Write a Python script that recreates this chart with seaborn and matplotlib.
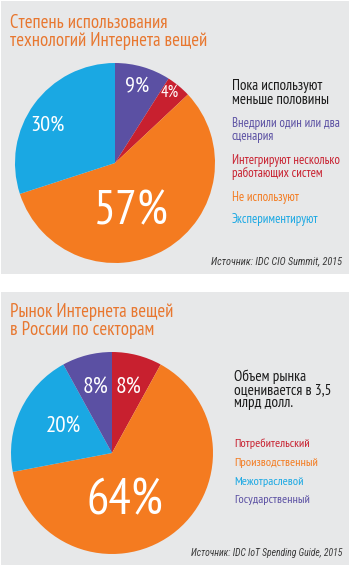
import numpy as np
import matplotlib
matplotlib.use("Agg")
import matplotlib.pyplot as plt
from matplotlib.patches import Rectangle
import seaborn as sns

# ---------------- data ----------------
title1 = "Степень использования\nтехнологий Интернета вещей"
cats1 = ["Внедрили один или два\nсценария", "Интегрируют несколько\nработающих систем",
         "Не используют", "Экспериментируют"]
vals1 = [9, 4, 57, 30]
note1 = "Пока используют\nменьше половины"
source1 = "Источник: IDC CIO Summit, 2015"

title2 = "Рынок Интернета вещей\nв России по секторам"
cats2 = ["Потребительский", "Производственный", "Межотраслевой", "Государственный"]
vals2 = [8, 64, 20, 8]
note2 = "Объем рынка\nоценивается в 3,5\nмлрд долл."
source2 = "Источник: IDC IoT Spending Guide, 2015"

PURPLE, RED, ORANGE, CYAN = "#5b50a3", "#c8202f", "#f47b20", "#1aa8e3"
colors1 = [PURPLE, RED, ORANGE, CYAN]
colors2 = [RED, ORANGE, CYAN, PURPLE]

sns.set_theme(style="white")
FONT = ["PT Sans Narrow", "DejaVu Sans"]
IFONT = ["Roboto Condensed", "DejaVu Sans"]
plt.rcParams["font.family"] = FONT

W, H = 350, 565
fig = plt.figure(figsize=(W / 100, H / 100), dpi=100)
fig.patch.set_facecolor("white")

def fx(x):
    return x / W

def fy(y):
    return 1 - y / H

BG = "#e7e8e9"
fig.patches.append(Rectangle((fx(1), fy(274)), fx(348), 273 / H, transform=fig.transFigure,
                             facecolor=BG, edgecolor="none", zorder=-5))
fig.patches.append(Rectangle((fx(1), fy(565)), fx(348), 273 / H, transform=fig.transFigure,
                             facecolor=BG, edgecolor="none", zorder=-5))

def draw_pie(cx, cy, r, vals, colors, lab_r, lab_dang, lab_size):
    ax = fig.add_axes([fx(cx - r), fy(cy + r), 2 * r / W, 2 * r / H])
    ax.set_facecolor("none")
    wedges, _ = ax.pie(vals, colors=colors, startangle=90, counterclock=False,
                       radius=1.0, wedgeprops=dict(linewidth=0))
    ax.set_xlim(-1, 1)
    ax.set_ylim(-1, 1)
    ax.set_aspect("equal")
    ax.axis("off")
    for w, v, rr, da, fs in zip(wedges, vals, lab_r, lab_dang, lab_size):
        ang = np.deg2rad((w.theta1 + w.theta2) / 2 + da)
        ax.text(rr * np.cos(ang), rr * np.sin(ang), f"{v}%", ha="center", va="center",
                color="white", fontsize=fs, family=FONT)
    return ax

# top panel
fig.text(fx(10), fy(32), title1, color="#e8772f", fontsize=13.5, ha="left", va="center",
         linespacing=0.95)
draw_pie(115, 163, 100, vals1, colors1,
         lab_r=[0.80, 0.89, 0.52, 0.77], lab_dang=[0, 2, -12, 7], lab_size=[16, 12, 35, 16])
fig.text(fx(232), fy(93), note1, color="#1a1a1a", fontsize=10.8, ha="left", va="center",
         linespacing=0.95)
ys1 = [130, 167, 197, 220]
for c, col, y in zip(cats1, colors1, ys1):
    fig.text(fx(232), fy(y), c, color=col, fontsize=9.2, ha="left", va="center",
             linespacing=1.0)
fig.text(fx(342), fy(261), source1, color="#3a3a3a", fontsize=7.4, style="italic",
         ha="right", va="center", family=IFONT)

# bottom panel
fig.text(fx(10), fy(321), title2, color="#e8772f", fontsize=13.5, ha="left", va="center",
         linespacing=0.95)
draw_pie(112, 453, 101, vals2, colors2,
         lab_r=[0.66, 0.50, 0.55, 0.66], lab_dang=[0, -21, -4, 0], lab_size=[17, 36, 16.5, 17])
fig.text(fx(234), fy(390), note2, color="#1a1a1a", fontsize=11, ha="left", va="center",
         linespacing=0.92)
ys2 = [444, 463, 482, 500]
for c, col, y in zip(cats2, colors2, ys2):
    fig.text(fx(234), fy(y), c, color=col, fontsize=8.8, ha="left", va="center")
fig.text(fx(342), fy(553), source2, color="#3a3a3a", fontsize=6.9, style="italic",
         ha="right", va="center", family=IFONT)

fig.savefig("out.png", dpi=100)
